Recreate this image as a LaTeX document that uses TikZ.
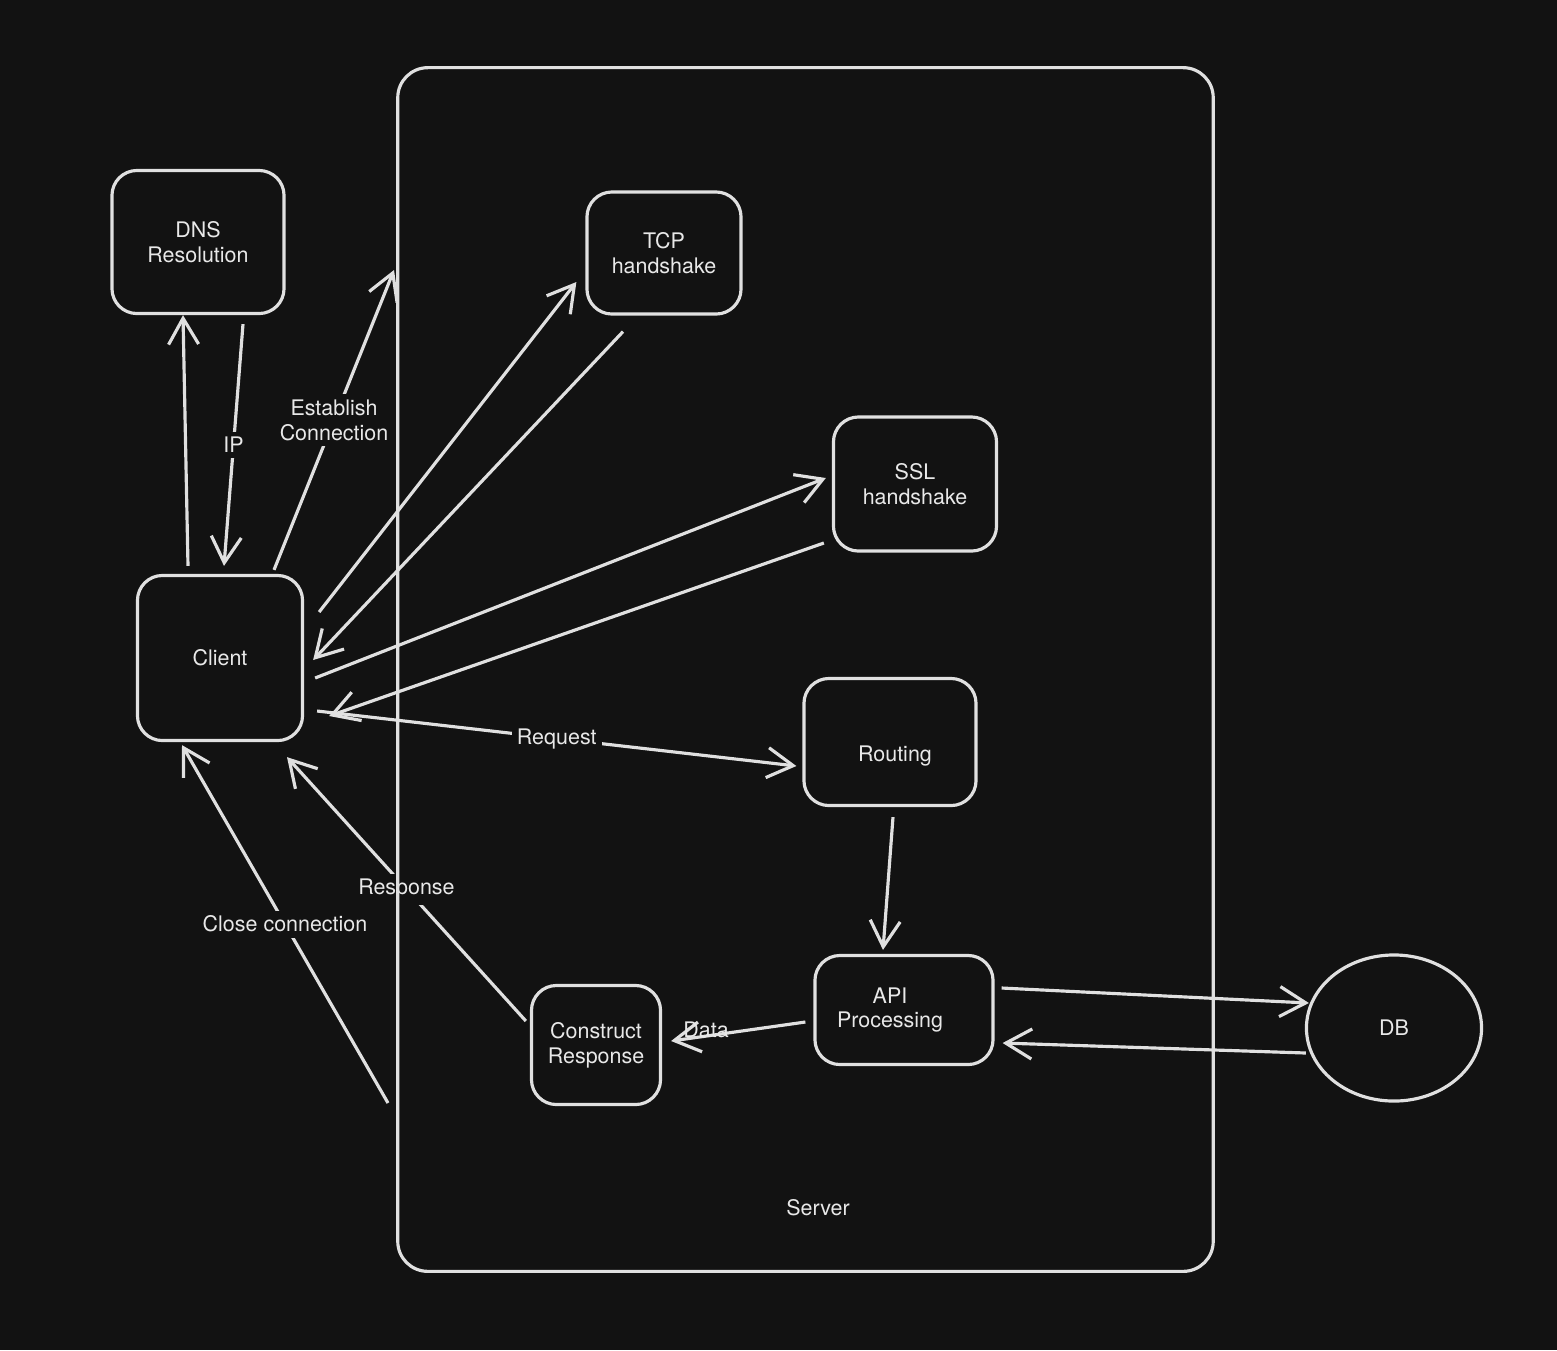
\documentclass[tikz,border=0pt]{standalone}
\usepackage{fontspec}
\setmainfont{TeX Gyre Heros}
\usetikzlibrary{arrows.meta,positioning,shapes.geometric,calc}
\definecolor{bgdark}{RGB}{18,18,18}
\definecolor{linegray}{RGB}{224,224,224}
\definecolor{textgray}{RGB}{232,232,232}
\newcommand{\diafont}{\fontsize{6.1}{7.1}\selectfont}
\tikzset{
  stagebox/.style={draw=linegray,line width=0.9pt,rounded corners=0.25cm,fill=bgdark,
    text=textgray,font=\diafont,align=center,inner sep=0pt},
  flow/.style={draw=linegray,line width=0.9pt,-{Straight Barb[length=0.26cm,width=0.3cm]}},
  flowlabel/.style={fill=bgdark,text=textgray,font=\diafont,align=center,inner sep=1.5pt},
}

\begin{document}
\begin{tikzpicture}[x=0.01cm,y=-0.01cm]
\fill[bgdark] (0,0) rectangle (1557,1350);
% stages
\node[stagebox,minimum width=1.72cm,minimum height=1.43cm] (dns) at (198,242) {DNS\\Resolution};
\node[stagebox,minimum width=1.65cm,minimum height=1.65cm] (client) at (220,658) {Client};
\node[stagebox,minimum width=1.54cm,minimum height=1.22cm] (tcp) at (664,253) {TCP\\handshake};
\node[stagebox,minimum width=1.63cm,minimum height=1.34cm] (ssl) at (915,484) {SSL\\handshake};
\node[stagebox,minimum width=1.72cm,minimum height=1.27cm,
  label={[shift={(5,14)},text=textgray,font=\diafont]center:Routing}] (routing) at (890,742) {};
\node[stagebox,minimum width=1.78cm,minimum height=1.09cm,
  label={[shift={(-14,0)},text=textgray,font=\diafont,align=center]center:API\\Processing}] (api) at (904,1010) {};
\node[stagebox,minimum width=1.29cm,minimum height=1.19cm] (construct) at (596,1045) {Construct\\Response};
\node[stagebox,ellipse,rounded corners=0pt,minimum width=1.75cm,minimum height=1.46cm] (db) at (1394,1028) {DB};
\coordinate (serverin) at (394,270);
\coordinate (serverout) at (388,1103);
% connectors
\draw[flow] ($(client.north)+(-32,-8)$) -- ($(dns.south)+(-15,0)$);
\draw[flow] ($(dns.south)+(45,9)$) -- node[flowlabel] {IP} ($(client.north)+(4,-8)$);
\draw[flow] ($(client.north)+(54,-4)$) -- node[flowlabel] {Establish\\Connection} (serverin);
\draw[flow] ($(client.east)+(15,-46)$) -- ($(tcp.west)+(-9,29)$);
\draw[flow] ($(tcp.south)+(-41,16)$) -- ($(client.east)+(9,2)$);
\draw[flow] ($(client.east)+(11,20)$) -- ($(ssl.west)+(-6,-6)$);
\draw[flow] ($(ssl.west)+(-8,59)$) -- ($(client.east)+(25,58)$);
\draw[flow] ($(client.east)+(13,53)$) -- node[flowlabel] {Request} ($(routing.west)+(-6,24)$);
\draw[flow] ($(routing.south)+(3,10)$) -- ($(api.north)+(-21,-4)$);
\draw[flow] ($(api.west)+(-8,12)$) -- node[pos=0.74,yshift=0.06cm,text=textgray,font=\diafont] {Data} ($(construct.east)+(9,-4)$);
\draw[flow] ($(api.east)+(7,-22)$) -- ($(db.west)+(4,-25)$);
\draw[flow] ($(db.west)+(1,25)$) -- ($(api.east)+(8,33)$);
\draw[flow] ($(construct.west)+(-4,-24)$) -- node[flowlabel] {Response} ($(client.south)+(67,15)$);
\draw[flow] (serverout) -- node[flowlabel] {Close connection} ($(client.south)+(-38,3)$);
% server frame
\node[draw=linegray,line width=0.9pt,rounded corners=0.3cm,minimum width=8.15cm,minimum height=12.03cm] (server) at (805.5,669.5) {};
\node[text=textgray,font=\diafont] (serverlabel) at (818,1208) {Server};
\end{tikzpicture}
\end{document}
